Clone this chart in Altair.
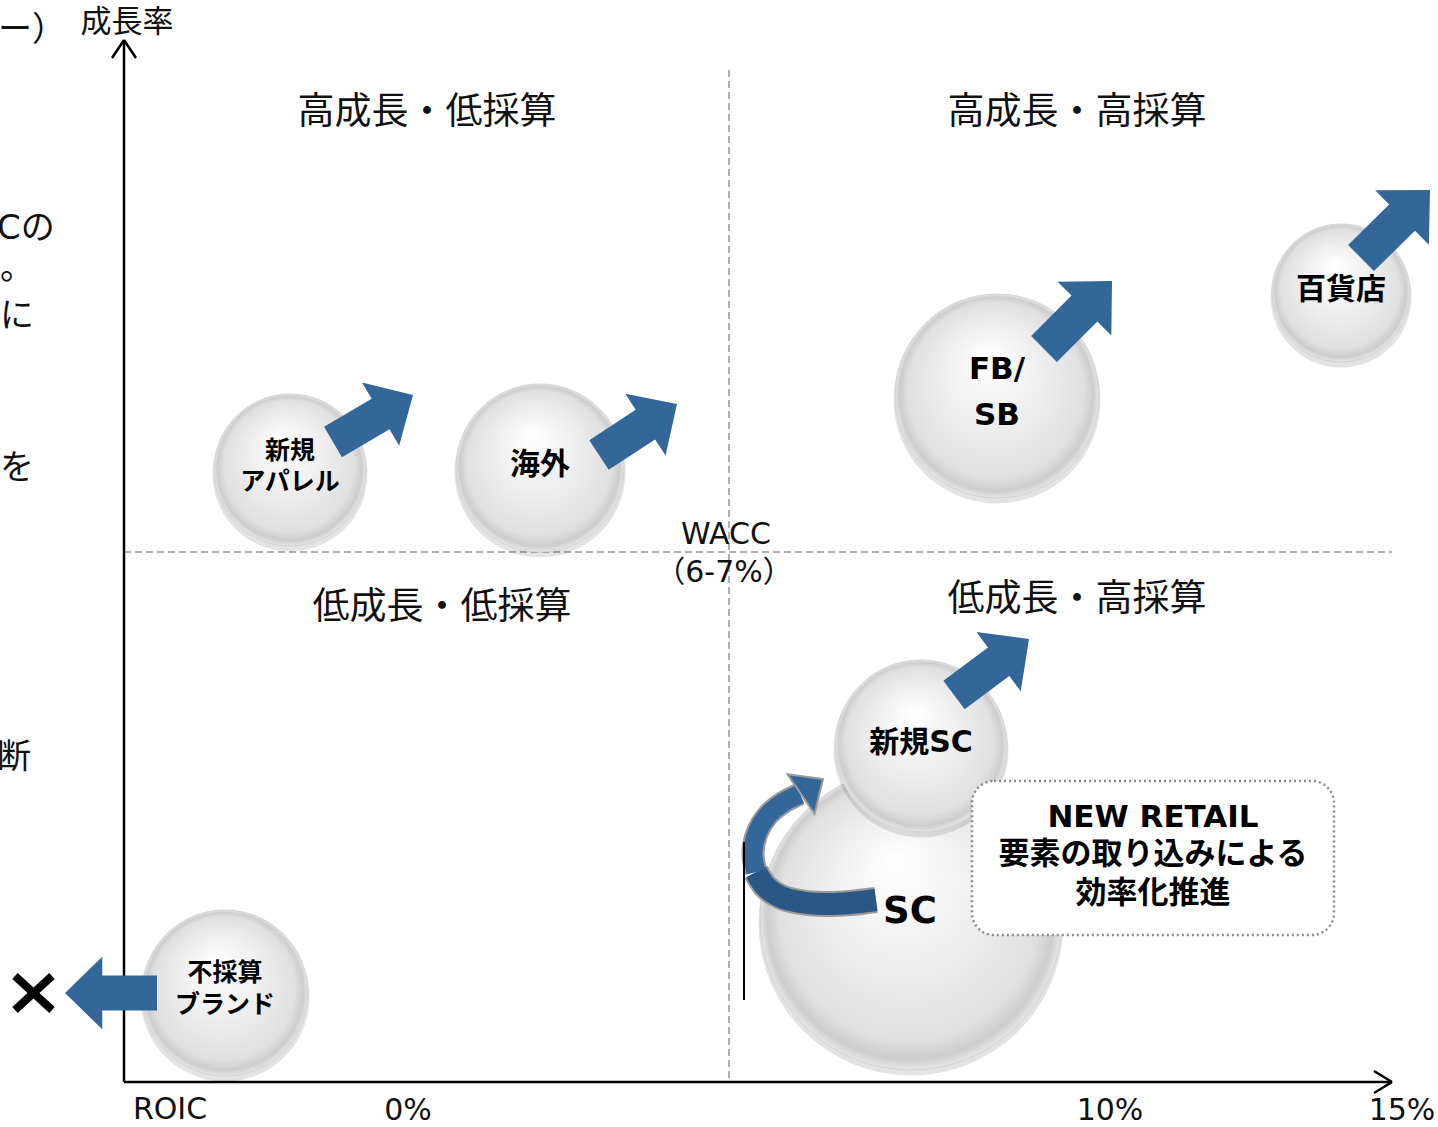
import math
import altair as alt
import pandas as pd

W, H = 1438, 1127
FONT = "DejaVu Sans, Noto Sans CJK JP"
BLUE = "#336699"

# ---------------- data (diagram units, origin top-left) ----------------
bubble_name = ["SC", "新規SC", "新規アパレル", "海外", "FB/SB", "百貨店", "不採算ブランド"]
bubble_x = [911, 921, 290, 540, 997, 1341, 225]
bubble_y = [919, 746, 470, 468, 396, 293, 993]
bubble_r = [151, 86, 76, 84, 102, 69, 83]

label_text = ["新規", "アパレル", "海外", "FB/", "SB", "百貨店", "新規SC", "SC", "不採算", "ブランド"]
label_x = [290, 290, 540, 997, 997, 1341, 921, 910, 225, 225]
label_y = [451, 482, 465, 370, 416, 290, 743, 912, 973, 1005]
label_size = [25, 25, 30, 31, 31, 30, 30, 37, 25, 25]

arrow_owner = ["新規アパレル", "海外", "FB/SB", "百貨店", "新規SC", "不採算ブランド"]
arrow_tail_x = [333, 599, 1044, 1361, 954, 157]
arrow_tail_y = [442, 455, 349, 258, 695, 993]
arrow_tip_x = [413, 677, 1112, 1430, 1029, 65]
arrow_tip_y = [395, 404, 281, 190, 639, 993]

curve_x = [876, 850, 825, 800, 781, 766, 756, 753, 757, 768, 784, 800]
curve_y = [900, 903, 904, 902, 897, 887, 872, 853, 833, 815, 802, 794]
curve_part = ["lower"] * 7 + ["upper"] * 5
head_base = (801, 794)
head_tip = (823, 779)

quad_text = ["高成長・低採算", "高成長・高採算", "低成長・低採算", "低成長・高採算"]
quad_x = [427, 1077, 442, 1077]
quad_y = [113, 113, 608, 600]

axis_text = ["成長率", "ROIC", "0%", "10%", "15%", "WACC", "（6-7%）"]
axis_tx = [127, 170, 408, 1110, 1402, 726, 724]
axis_ty = [23, 1110, 1111, 1111, 1111, 535, 573]
axis_tsize = [31, 30, 30, 30, 30, 30, 30]

side_text = ["ー）", "Cの", "。", "に", "を", "断"]
side_x = [-2, -3, 0, 0, 0, -3]
side_y = [31, 229, 269, 317, 469, 758]

box_lines = ["NEW RETAIL", "要素の取り込みによる", "効率化推進"]
box_line_y = [818, 855, 894]
box_cx = 1153
box_rect = (972, 781, 1334, 935)

# segments: axis lines + arrow chevrons
axis_seg = [
    (124, 1082, 124, 40), (112, 58, 124, 40), (124, 40, 136, 58),
    (124, 1082, 1392, 1082), (1374, 1071, 1392, 1082), (1392, 1082, 1374, 1093),
]
dash_seg = [(729, 70, 729, 1082), (124, 552, 1392, 552)]
cross_seg = [(15, 976, 52, 1010), (15, 1010, 52, 976)]
bar_seg = [(744, 842, 744, 1000)]

# ---------------- scales ----------------
xs = alt.Scale(domain=[0, W], nice=False, zero=False)
ys = alt.Scale(domain=[0, H], nice=False, zero=False, reverse=True)


def X(f="x"):
    return alt.X(f"{f}:Q", scale=xs, axis=None)


def Y(f="y"):
    return alt.Y(f"{f}:Q", scale=ys, axis=None)


def seg_df(segs):
    return pd.DataFrame(segs, columns=["x", "y", "x2", "y2"])


def rules(segs, color, width, dash=None):
    kw = dict(color=color, strokeWidth=width, strokeCap="butt")
    if dash:
        kw["strokeDash"] = dash
    return alt.Chart(seg_df(segs)).mark_rule(**kw).encode(
        x=X(), y=Y(), x2="x2:Q", y2="y2:Q"
    )


layers = []

# dashed WACC / growth split lines
layers.append(rules(dash_seg, "#b0b0b0", 2, [7, 4]))
# axes
layers.append(rules(axis_seg, "#000000", 2.5))

# bubbles (vega circle: radius = sqrt(size)/2)
bub = pd.DataFrame({"name": bubble_name, "x": bubble_x, "y": bubble_y, "r": bubble_r})
bub["size"] = (2 * bub["r"]) ** 2
bub["ys"] = bub["y"] + 4
bub["ssize"] = (2 * (bub["r"] + 1.5)) ** 2

bubble_fill = {
    "gradient": "radial",
    "x1": 0.45, "y1": 0.3, "r1": 0,
    "x2": 0.5, "y2": 0.5, "r2": 0.5,
    "stops": [
        {"offset": 0, "color": "#ffffff"},
        {"offset": 0.5, "color": "#eeeeee"},
        {"offset": 0.86, "color": "#e0e0e0"},
        {"offset": 0.95, "color": "#cdcdcd"},
        {"offset": 1, "color": "#e6e6e6"},
    ],
}

for i in range(len(bub)):
    one = bub.iloc[[i]]
    layers.append(
        alt.Chart(one).mark_circle(color="#000000", opacity=0.11).encode(
            x=X(), y=Y("ys"), size=alt.Size("ssize:Q", scale=None, legend=None)
        )
    )
    layers.append(
        alt.Chart(one).mark_circle(fill=bubble_fill, opacity=1, stroke="#d2d2d2", strokeWidth=1).encode(
            x=X(), y=Y(), size=alt.Size("size:Q", scale=None, legend=None)
        )
    )

# bubble labels
lab = pd.DataFrame({"t": label_text, "x": label_x, "y": label_y, "s": label_size})
layers.append(
    alt.Chart(lab).mark_text(font=FONT, fontWeight="bold", color="#000000", align="center", baseline="middle").encode(
        x=X(), y=Y(), text="t:N", size=alt.Size("s:Q", scale=None, legend=None)
    )
)

# block arrows
ar = pd.DataFrame({"owner": arrow_owner, "tx": arrow_tail_x, "ty": arrow_tail_y,
                   "hx": arrow_tip_x, "hy": arrow_tip_y})
ar["x"] = (ar["tx"] + ar["hx"]) / 2
ar["y"] = (ar["ty"] + ar["hy"]) / 2
ar["L"] = ((ar["hx"] - ar["tx"]) ** 2 + (ar["hy"] - ar["ty"]) ** 2) ** 0.5
ar["size"] = ar["L"] ** 2
ar["angle"] = [(math.degrees(math.atan2(dy, dx)) + 360) % 360
               for dx, dy in zip(ar["hx"] - ar["tx"], ar["hy"] - ar["ty"])]
ARROW = "M -1 -0.38 L 0.19 -0.38 L 0.19 -0.79 L 1 0 L 0.19 0.79 L 0.19 0.38 L -1 0.38 Z"
layers.append(
    alt.Chart(ar).mark_point(shape=ARROW, filled=True, fill=BLUE, opacity=1, strokeWidth=0).encode(
        x=X(), y=Y(),
        size=alt.Size("size:Q", scale=None, legend=None),
        angle=alt.Angle("angle:Q", scale=None),
    )
)

# curved arrow (SC -> 新規SC)
cv = pd.DataFrame({"x": curve_x, "y": curve_y, "part": curve_part, "i": range(len(curve_x))})
joint = cv.iloc[[6]].copy()
joint["part"] = "upper"
cv = pd.concat([cv, joint]).sort_values("i").reset_index(drop=True)
cv["col"] = cv["part"].map({"lower": "#2b5784", "upper": BLUE})
cv["w"] = cv["part"].map({"lower": 22, "upper": 19})
cv["ow"] = cv["w"] + 4
layers.append(
    alt.Chart(cv).mark_line(interpolate="catmull-rom", strokeCap="butt", color="#9a9a9a").encode(
        x=X(), y=Y(), detail="part:N", order="i:Q",
        strokeWidth=alt.StrokeWidth("ow:Q", scale=None, legend=None),
    )
)
layers.append(
    alt.Chart(cv).mark_line(interpolate="catmull-rom", strokeCap="butt").encode(
        x=X(), y=Y(), detail="part:N", order="i:Q",
        color=alt.Color("col:N", scale=None, legend=None),
        strokeWidth=alt.StrokeWidth("w:Q", scale=None, legend=None),
    )
)
hd = pd.DataFrame({
    "x": [(head_base[0] + head_tip[0]) / 2],
    "y": [(head_base[1] + head_tip[1]) / 2],
    "angle": [(math.degrees(math.atan2(head_tip[1] - head_base[1], head_tip[0] - head_base[0])) + 360) % 360],
    "size": [(2 * math.hypot(head_tip[0] - head_base[0], head_tip[1] - head_base[1])) ** 2],
})
HEAD = "M -0.5 -0.9 L 0.5 0 L -0.5 0.9 Z"
layers.append(
    alt.Chart(hd).mark_point(shape=HEAD, filled=True, fill=BLUE, stroke="#9a9a9a", strokeWidth=2, opacity=1).encode(
        x=X(), y=Y(),
        size=alt.Size("size:Q", scale=None, legend=None),
        angle=alt.Angle("angle:Q", scale=None),
    )
)

# small vertical bar and the × mark
layers.append(rules(bar_seg, "#000000", 2))
layers.append(rules(cross_seg, "#000000", 8))

# NEW RETAIL box
bx = pd.DataFrame({"x": [box_rect[0]], "y": [box_rect[1]], "x2": [box_rect[2]], "y2": [box_rect[3]]})
layers.append(
    alt.Chart(bx).mark_rect(fill="#ffffff", stroke="#8c8c8c", strokeWidth=2.5, strokeDash=[2, 3], cornerRadius=22).encode(
        x=X(), y=Y(), x2="x2:Q", y2="y2:Q"
    )
)
bt = pd.DataFrame({"t": box_lines, "x": [box_cx] * 3, "y": box_line_y})
layers.append(
    alt.Chart(bt).mark_text(font=FONT, fontWeight="bold", fontSize=31, color="#000000", align="center", baseline="middle").encode(
        x=X(), y=Y(), text="t:N"
    )
)

# quadrant labels
qd = pd.DataFrame({"t": quad_text, "x": quad_x, "y": quad_y})
layers.append(
    alt.Chart(qd).mark_text(font=FONT, fontSize=37, color="#111111", align="center", baseline="middle").encode(
        x=X(), y=Y(), text="t:N"
    )
)

# axis labels & WACC
at = pd.DataFrame({"t": axis_text, "x": axis_tx, "y": axis_ty, "s": axis_tsize})
layers.append(
    alt.Chart(at).mark_text(font=FONT, color="#111111", align="center", baseline="middle").encode(
        x=X(), y=Y(), text="t:N", size=alt.Size("s:Q", scale=None, legend=None)
    )
)

# text cut off at the left edge (from a neighbouring text block)
sd = pd.DataFrame({"t": side_text, "x": side_x, "y": side_y})
layers.append(
    alt.Chart(sd).mark_text(font=FONT, fontSize=34, color="#111111", align="left", baseline="middle").encode(
        x=X(), y=Y(), text="t:N"
    )
)

chart = alt.layer(*layers).properties(
    width=W, height=H, padding=0, autosize="none", background="#ffffff"
).configure_view(stroke=None)

chart.save("out.html", embed_options={"renderer": "svg", "actions": False})
